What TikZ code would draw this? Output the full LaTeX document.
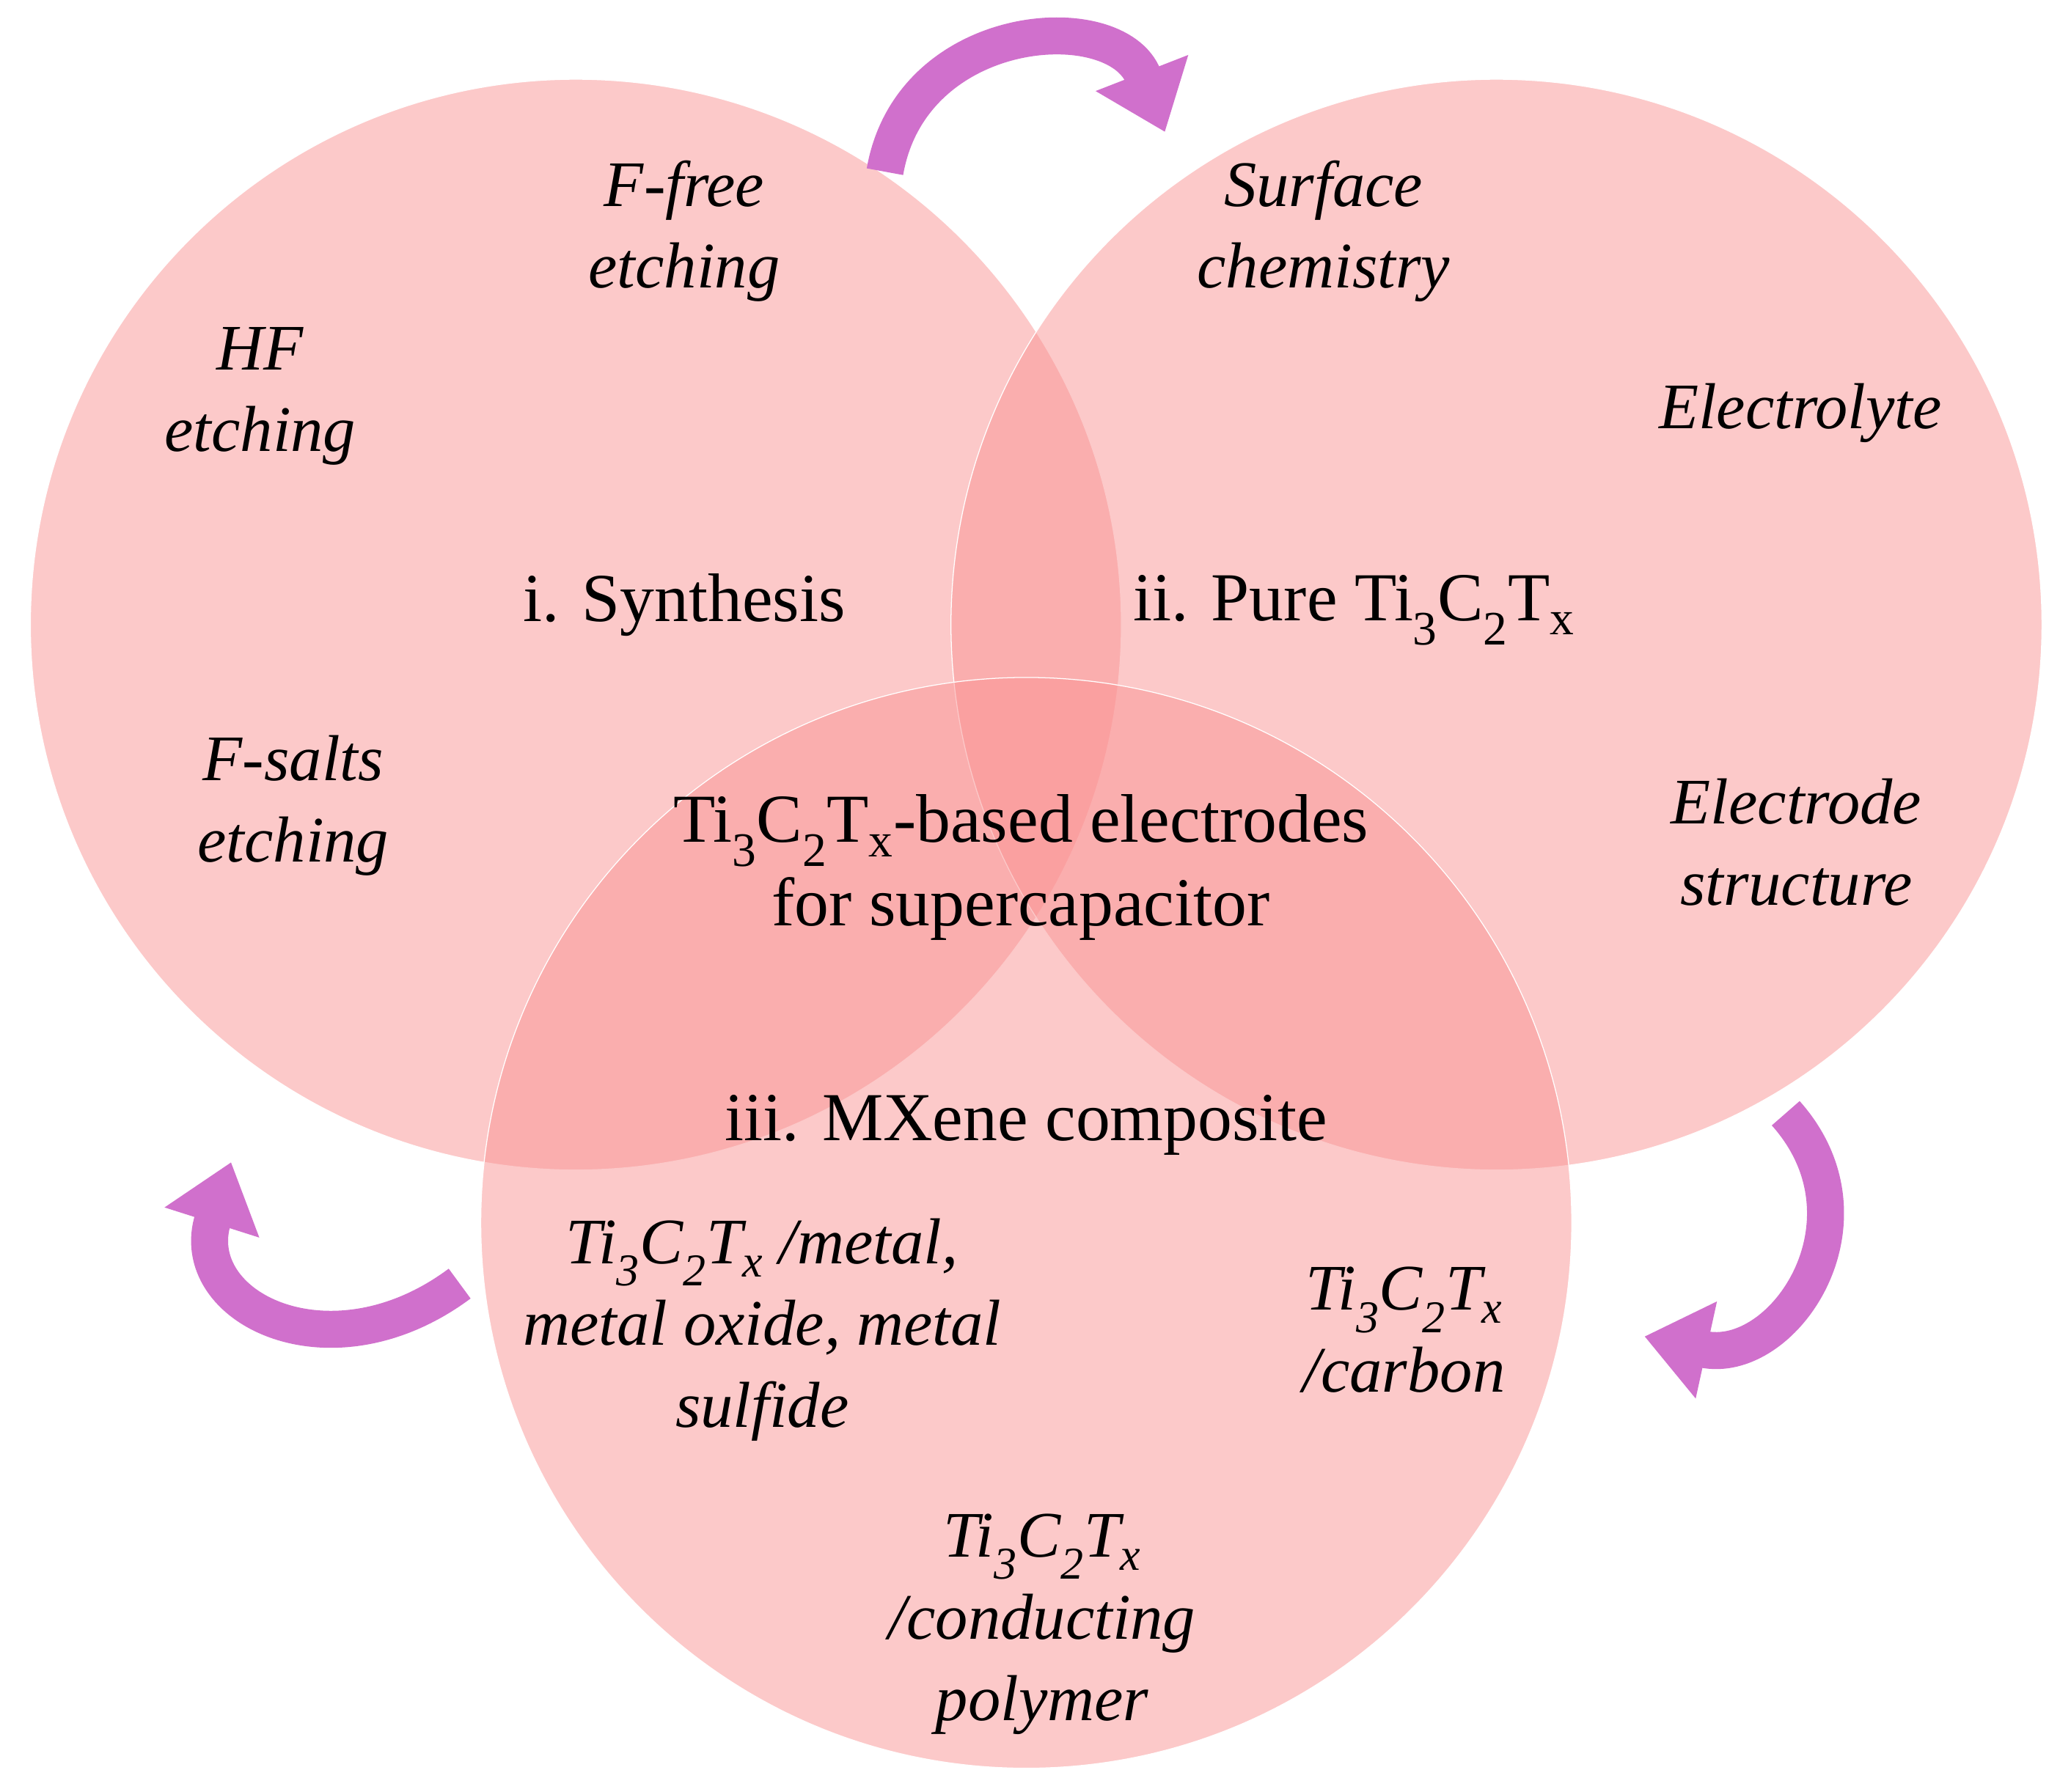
\documentclass[tikz,border=0pt]{standalone}
\usepackage{fontspec}
\setmainfont{Liberation Serif}
\usetikzlibrary{arrows.meta}
\definecolor{pinkfill}{HTML}{FA9494}
\definecolor{arrowc}{HTML}{D070CC}
\begin{document}
\begin{tikzpicture}[x=0.05cm,y=-0.05cm,
  circ/.style={fill=pinkfill,fill opacity=0.5,draw=white,line width=1pt},
  lbl/.style={align=center,font=\fontsize{70}{88}\selectfont\itshape},
  mainl/.style={align=center,font=\fontsize{74}{90}\selectfont},
  bigarrow/.style={draw=arrowc,line width=1.4cm,-{Triangle[length=2.4cm,width=3.6cm]}}]
\useasboundingbox (0,0) rectangle (1568,1357);
\fill[white] (0,0) rectangle (1568,1357);
\path[circ] (436,473) circle[radius=413];
\path[circ] (1133,473) circle[radius=413];
\path[circ] (777,926) circle[radius=413];
% arrows
\draw[bigarrow] (670,130) .. controls (690,15) and (845,5) .. (882,100);
\draw[bigarrow] (348,972) .. controls (250,1045) and (140,990) .. (175,880);
\draw[bigarrow] (1352,843) .. controls (1425,925) and (1350,1035) .. (1245,1012);
% labels
\node[lbl] (ff) at (518,175) {F-free\\etching};
\node[lbl] (hf) at (197,300) {HF\\etching};
\node[mainl] (syn) at (518,458) {i. Synthesis};
\node[lbl] (fs) at (222,610) {F-salts\\etching};
\node[lbl] (sc) at (1002,175) {Surface\\chemistry};
\node[lbl] (el) at (1363,313) {Electrolyte};
\node[mainl] (pure) at (1025,462) {ii. Pure Ti\textsubscript{3}C\textsubscript{2}T\textsubscript{x}};
\node[lbl] (es) at (1360,638) {Electrode\\structure};
\node[mainl] (cen) at (773,657) {Ti\textsubscript{3}C\textsubscript{2}T\textsubscript{x}-based electrodes\\for supercapacitor};
\node[mainl] (mx) at (777,852) {iii. MXene composite};
\node[lbl] (met) at (577,1007) {Ti\textsubscript{3}C\textsubscript{2}T\textsubscript{\itshape x} /metal,\\metal oxide, metal\\sulfide};
\node[lbl] (car) at (1063,1007) {Ti\textsubscript{3}C\textsubscript{2}T\textsubscript{\itshape x}\\/carbon};
\node[lbl] (pol) at (789,1230) {Ti\textsubscript{3}C\textsubscript{2}T\textsubscript{\itshape x}\\/conducting\\polymer};
\end{tikzpicture}
\end{document}
